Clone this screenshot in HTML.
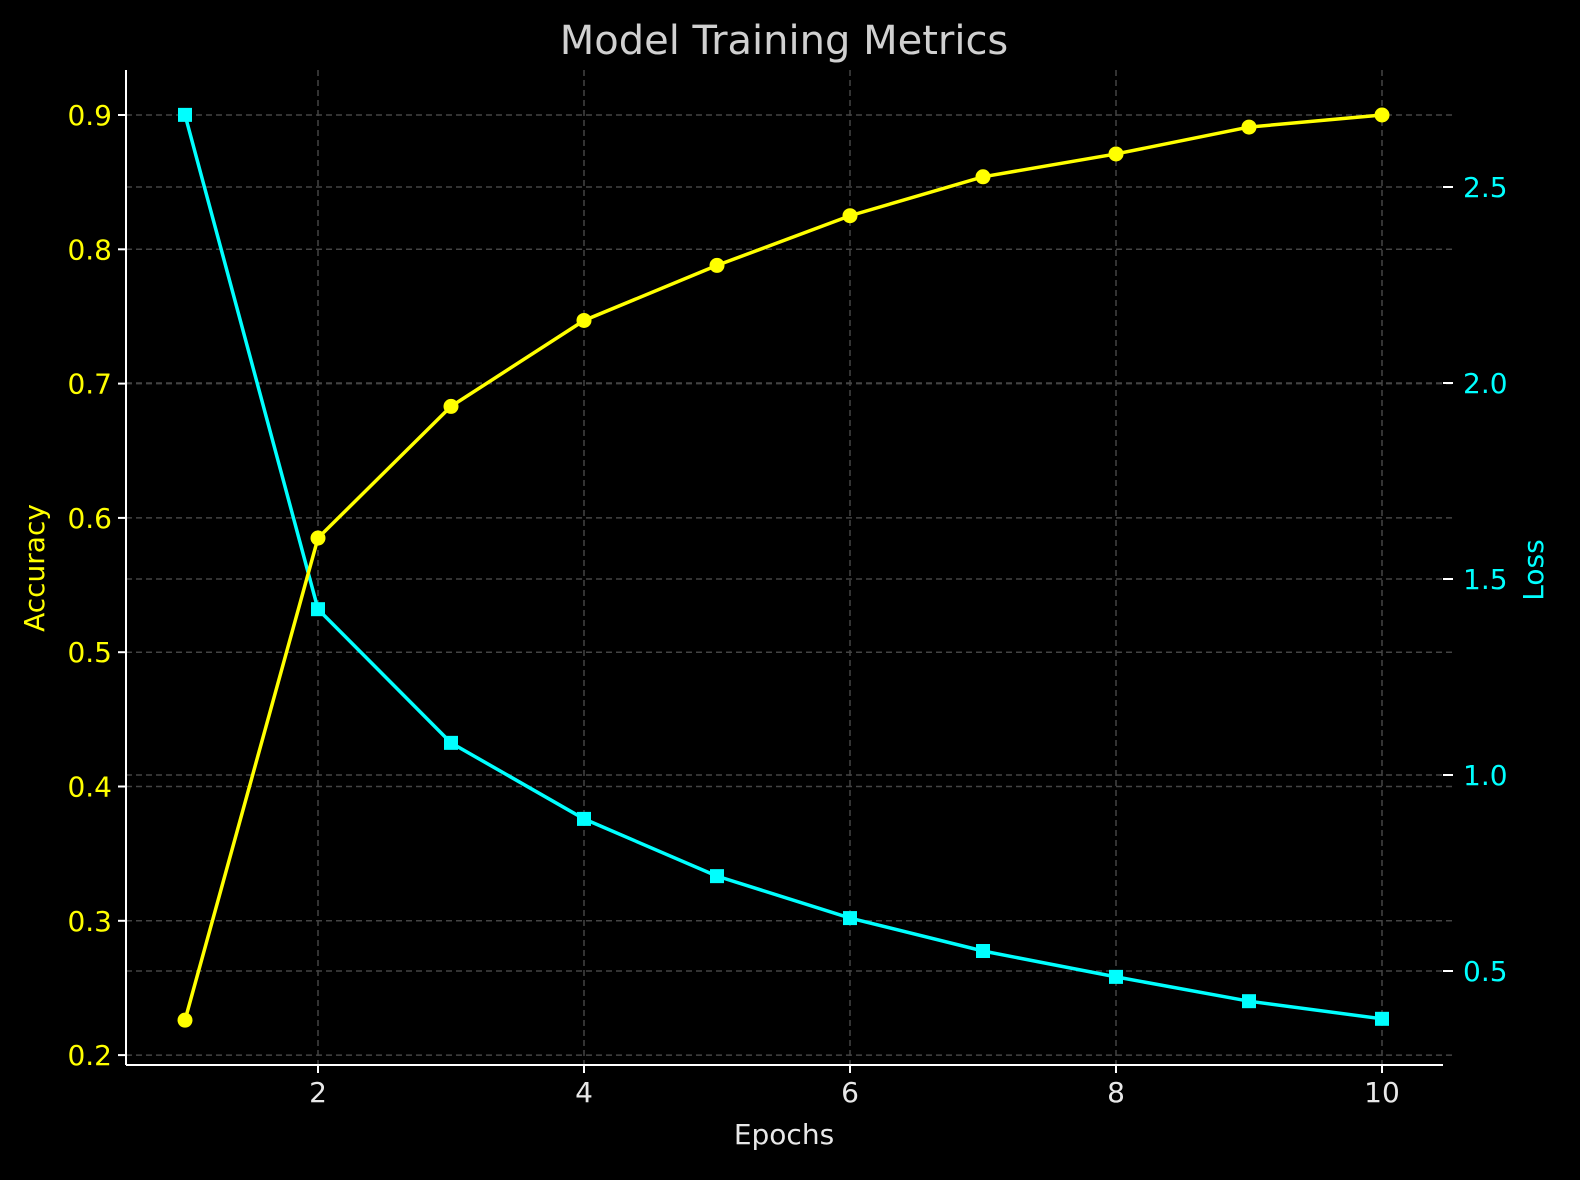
<!DOCTYPE html>
<html><head><meta charset="utf-8"><style>
html,body{margin:0;padding:0;background:#000;}
svg{display:block;font-family:"DejaVu Sans","Liberation Sans",sans-serif;}
</style></head><body>
<svg id="chart" width="1580" height="1180" viewBox="0 0 1580 1180">
<rect width="1580" height="1180" fill="#000"/>
<text x="784" y="54" text-anchor="middle" font-size="40" fill="#d0d0d0">Model Training Metrics</text>
<g id="grid"></g>
<g id="axes"></g>
<g id="series"></g>
<text x="784" y="1144" text-anchor="middle" font-size="28" fill="#e8e8e8">Epochs</text>
<text transform="translate(44,568) rotate(-90)" text-anchor="middle" font-size="28" fill="#ffff00">Accuracy</text>
<text transform="translate(1543,570) rotate(-90)" text-anchor="middle" font-size="28" fill="#00ffff">Loss</text>
</svg>
<script>
const epochs = [1,2,3,4,5,6,7,8,9,10];
const accuracy = [0.226,0.585,0.683,0.747,0.788,0.825,0.854,0.871,0.891,0.900];
const loss = [2.684,1.423,1.082,0.888,0.742,0.635,0.551,0.485,0.423,0.378];
const xTicks = [2,4,6,8,10];
const accTicks = [0.2,0.3,0.4,0.5,0.6,0.7,0.8,0.9];
const lossTicks = [0.5,1.0,1.5,2.0,2.5];

const NS = "http://www.w3.org/2000/svg";
const L = 126, R = 1443, T = 70, B = 1065;
const xS = v => 185 + (v - 1) * 133;
const yA = v => 115 + (0.9 - v) * 1343;
const yL = v => 187 + (2.5 - v) * 392;

function mk(parent, tag, attrs){
  const e = document.createElementNS(NS, tag);
  for (const k in attrs) e.setAttribute(k, attrs[k]);
  parent.appendChild(e);
  return e;
}
const grid = document.getElementById('grid');
const axes = document.getElementById('axes');
const series = document.getElementById('series');
const gs = {stroke:'#444', 'stroke-width':1.5, 'stroke-dasharray':'6,4'};

xTicks.forEach(v => {
  const g = mk(grid, 'line', Object.assign({x1:xS(v), x2:xS(v), y1:T, y2:B}, gs));
  
  
  const t = mk(axes, 'line', {x1:xS(v), x2:xS(v), y1:B, y2:B+8, stroke:'#fff', 'stroke-width':2});
  
  
  const lb = mk(axes, 'text', {x:xS(v), y:B+37, 'text-anchor':'middle', 'font-size':28, fill:'#e8e8e8'});
  lb.textContent = v;
  
  
});
accTicks.forEach(v => {
  const g = mk(grid, 'line', Object.assign({x1:L, x2:R+10, y1:yA(v), y2:yA(v)}, gs));
  
  
  const t = mk(axes, 'line', {x1:L-8, x2:L, y1:yA(v), y2:yA(v), stroke:'#fff', 'stroke-width':2});
  
  
  const lb = mk(axes, 'text', {x:L-14, y:yA(v)+10, 'text-anchor':'end', 'font-size':28, fill:'#ffff00'});
  lb.textContent = v.toFixed(1);
  
  
});
lossTicks.forEach(v => {
  const g = mk(grid, 'line', Object.assign({x1:L, x2:R+10, y1:yL(v), y2:yL(v)}, gs));
  
  
  const t = mk(axes, 'line', {x1:R, x2:R+10, y1:yL(v), y2:yL(v), stroke:'#fff', 'stroke-width':2});
  
  
  const lb = mk(axes, 'text', {x:R+20, y:yL(v)+10, 'text-anchor':'start', 'font-size':28, fill:'#00ffff'});
  lb.textContent = v.toFixed(1);
  
  
});
const sl = mk(axes, 'line', {x1:L, x2:L, y1:T, y2:B, stroke:'#fff', 'stroke-width':2});


const sb = mk(axes, 'line', {x1:L, x2:R, y1:B, y2:B, stroke:'#fff', 'stroke-width':2});



const lossLine = mk(series, 'polyline', {points: epochs.map((e,i)=>xS(e)+','+yL(loss[i])).join(' '), fill:'none', stroke:'#00ffff', 'stroke-width':3.5});


epochs.forEach((e,i) => {
  const m = mk(series, 'rect', {x:xS(e)-7, y:yL(loss[i])-7, width:14, height:14, fill:'#00ffff'});
  
  
});
const accLine = mk(series, 'polyline', {points: epochs.map((e,i)=>xS(e)+','+yA(accuracy[i])).join(' '), fill:'none', stroke:'#ffff00', 'stroke-width':3.5});


epochs.forEach((e,i) => {
  const m = mk(series, 'circle', {cx:xS(e), cy:yA(accuracy[i]), r:7.5, fill:'#ffff00'});
  
  
});
</script>
</body></html>
